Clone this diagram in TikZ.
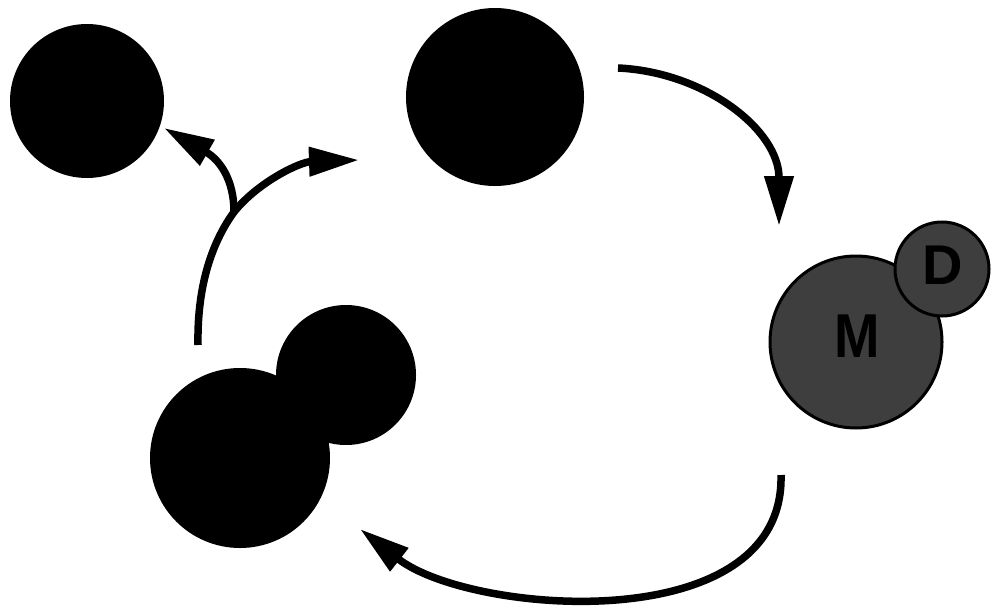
\documentclass[tikz,border=0pt]{standalone}
\usepackage{fontspec}
\setmainfont{Liberation Sans}
\usetikzlibrary{arrows.meta}
\definecolor{mgray}{RGB}{62,62,62}
\begin{document}
\begin{tikzpicture}[x=1pt,y=-1pt,
  blob/.style={circle,fill=black,draw=none,inner sep=0pt},
  grayblob/.style={circle,fill=mgray,draw=black,line width=3pt,inner sep=0pt},
  arr/.style={line width=7.5pt,-{Triangle[length=50pt,width=28pt]}},
  plain/.style={line width=7.5pt}]
\useasboundingbox (0,0) rectangle (995,607);
\fill[white] (0,0) rectangle (995,607);
% circles
\node[blob,minimum size=154pt] (tl) at (87,101) {};
\node[blob,minimum size=178pt] (tm) at (495,97) {};
\node[blob,minimum size=140pt] (bs) at (346,375) {};
\node[blob,minimum size=180pt] (bb) at (240,458) {};
\node[grayblob,minimum size=172pt] (m) at (856,342) {};
\node[grayblob,minimum size=94pt] (d) at (942,269) {};
\node[font=\bfseries\fontsize{62}{62}\selectfont,xscale=0.88] (mt) at (857,336) {M};
\node[font=\bfseries\fontsize{56}{56}\selectfont] (dt) at (943,265) {D};
% coordinates
\coordinate (a1s) at (618,68);
\coordinate (a1e) at (779,226);
\coordinate (a2s) at (781,475);
\coordinate (a2e) at (360,529);
\coordinate (a3s) at (198,345);
\coordinate (j) at (234,212);
\coordinate (a3l) at (164,128);
\coordinate (a3r) at (359,160);
% arrows
\draw[arr] (a1s) .. controls (705,72) and (779,130) .. (a1e);
\draw[arr] (a2s) .. controls (785,640) and (470,615) .. (a2e);
\draw[plain] (a3s) .. controls (197,290) and (210,245) .. (j);
\draw[arr] (j) .. controls (258,182) and (300,162) .. (a3r);
\draw[arr] (j) .. controls (234,180) and (220,160) .. (a3l);
\end{tikzpicture}
\end{document}
